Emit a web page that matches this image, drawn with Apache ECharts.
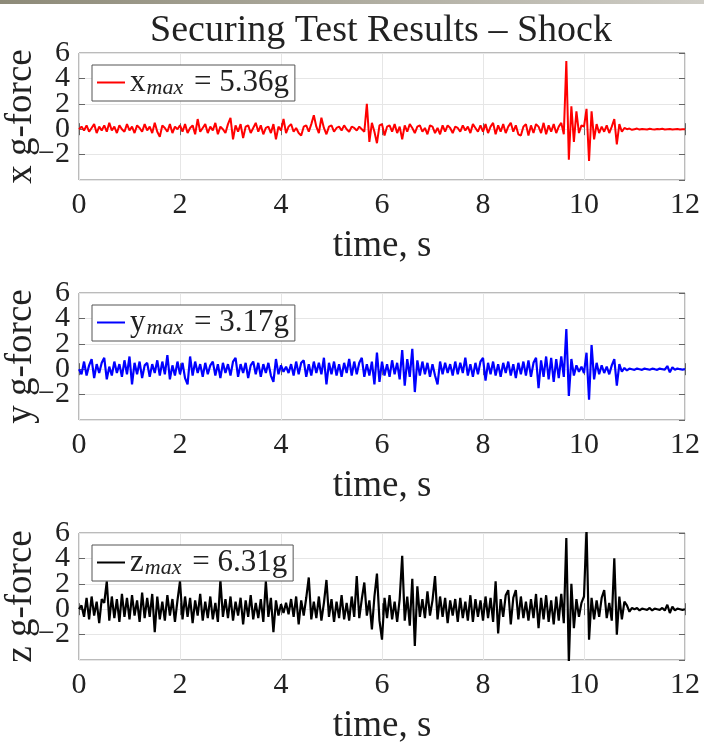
<!DOCTYPE html>
<html>
<head>
<meta charset="utf-8">
<title>Securing Test Results – Shock</title>
<script src="https://cdn.jsdelivr.net/npm/echarts@6/dist/echarts.min.js"></script>
<style>
  html, body { margin: 0; padding: 0; background: #fff; }
  #chart { width: 704px; height: 747px; }
</style>
</head>
<body>
<div id="chart"></div>
<script>
// sample step, s
const DT = 0.05;

// x acceleration, g (one row per second)
const xForce = [
  0.0, 0.2, -0.1, 0.3, -0.2, 0.1, 0.4, -0.3, 0.2, -0.1, 0.3, -0.2, 0.5, -0.1, 0.2, -0.3, 0.3, 0.0, -0.2, 0.4,
  -0.1, 0.2, -0.3, 0.3, 0.1, -0.2, 0.4, -0.1, 0.2, -0.3, 0.5, -0.2, -0.6, 0.3, 0.1, -0.2, 0.4, -0.3, 0.2, 0.0,
  0.3, -0.2, 0.4, -0.3, 0.1, 0.3, -0.4, 0.8, -0.2, 0.1, 0.4, -0.3, 0.2, -0.1, 0.5, -0.4, 0.2, 0.0, -0.3, 0.4,
  0.9, -0.8, 0.3, -0.2, 0.4, -0.7, 0.2, 0.3, -0.3, 0.1, 0.5, -0.2, 0.3, -0.4, 0.1, 0.2, -0.3, 0.4, -0.8, 0.2,
  -0.1, 0.8, -0.3, 0.2, 0.4, -0.2, 0.1, -0.3, -0.5, 0.2, 0.3, -0.2, 0.4, 1.1, 0.2, -0.3, 0.9, 0.1, -0.4, 0.2,
  0.3, -0.2, 0.1, 0.2, -0.1, 0.3, 0.0, -0.2, 0.2, 0.1, -0.1, 0.2, 0.0, -0.2, 2.0, -1.0, 0.5, -0.2, -1.1, 0.3,
  0.4, -0.5, 0.2, 0.3, -0.2, 0.4, -0.3, 0.2, -0.8, 0.3, -0.2, 0.4, 0.1, -0.3, 0.2, 0.3, -0.2, 0.1, -0.4, 0.3,
  0.2, -0.3, 0.1, -0.4, 0.3, -0.2, 0.3, 0.1, -0.3, 0.2, 0.1, -0.2, 0.3, -0.1, 0.2, -0.3, 0.4, 0.1, -0.2, 0.3,
  -0.2, 0.4, -0.3, 0.2, 0.5, -0.4, 0.3, -0.2, 0.4, -0.3, 0.2, 0.5, -0.2, 0.3, -0.4, -0.5, 0.2, 0.4, -0.5, 0.3,
  -0.3, 0.4, 0.2, -0.3, 0.5, -0.4, 0.3, -0.2, 0.4, -0.3, 0.2, 0.5, -0.4, 5.36, -2.4, 1.8, -1.0, 1.4, -0.3, 0.3,
  0.2, 1.6, -2.5, 1.4, -0.8, 0.4, -0.3, 0.2, -0.2, 0.3, -0.3, 0.2, 0.8, -1.2, 0.4, -0.2, 0.1, 0.0, 0.05, -0.05,
  0.0, 0.05, -0.03, 0.02, 0.0, -0.02, 0.03, 0.0, -0.03, 0.02, 0.0, 0.03, -0.02, 0.0, 0.02, -0.03, 0.0, 0.02, -0.02, 0.0,
  0.0
];

// y acceleration, g
const yForce = [
  0.0, -0.4, 0.6, -0.5, 0.3, 0.8, -0.7, 0.4, -0.3, 0.5, 0.9, -0.8, 0.2, -0.5, 0.6, -0.3, 0.4, -0.6, 0.7, -0.4,
  1.0, -1.2, 0.5, -0.4, 0.6, -0.7, 0.3, 0.5, -0.6, 0.4, -0.3, 0.7, -0.5, 0.6, -0.4, 1.1, -0.8, 0.3, -0.5, 0.6,
  -0.4, 0.5, -0.7, -1.2, 1.0, -0.5, 0.6, -0.3, 0.4, -0.6, 0.5, -0.4, 0.3, 0.6, -0.5, 0.4, -0.7, 0.5, -0.3, 0.4,
  -0.5, 0.6, 0.9, -0.6, 0.4, -0.3, 0.5, -0.7, 0.3, 0.6, -0.4, 0.5, -0.6, 0.4, -0.3, 0.5, -0.5, -1.0, 0.8, -0.4,
  0.3, -0.2, 0.2, -0.3, 0.4, -0.5, 0.6, -0.4, 0.5, 0.7, -0.6, 0.4, -0.5, 0.6, -0.3, 0.5, -0.4, 0.9, -1.2, 0.5,
  -0.4, 0.6, -0.5, 0.4, -0.6, 0.5, -0.3, 0.8, -0.5, 0.6, -0.4, 0.5, 0.9, -0.6, 0.4, -0.5, 0.6, -1.2, 1.3, -1.0,
  0.6, -0.5, 0.4, -0.6, 0.7, -0.4, 0.5, -0.8, 1.5, -1.3, 0.8, -0.6, 1.6, -1.8, 0.7, -0.5, 0.6, -0.4, 0.5, -0.6,
  0.4, -0.5, -1.2, 0.6, -0.4, 0.5, -0.3, 0.4, -0.5, 0.6, -0.4, 0.5, -0.3, 0.9, -0.5, 0.4, -0.6, 0.5, -0.4, 0.6,
  0.9, -0.9, 0.5, -0.4, 0.6, -0.5, 0.4, -0.6, 0.5, -0.3, 0.6, -0.5, 0.4, -0.7, 0.5, -0.4, 0.6, -0.5, 0.7, -0.6,
  0.5, 0.9, -1.5, 0.7, -0.6, 1.0, -0.8, 0.9, -1.0, 0.8, -0.7, 1.0, -0.6, 3.17, -2.1, 0.8, -0.5, 0.3, -0.2, 0.2,
  -0.3, 1.3, -2.4, 1.9, -0.8, 0.5, -0.4, 0.3, -0.3, 0.2, -0.4, 0.3, 0.8, -1.3, 0.4, -0.2, 0.1, -0.1, 0.05, 0.0,
  -0.05, 0.05, 0.0, -0.05, 0.05, 0.0, -0.04, 0.04, 0.0, -0.05, 0.05, 0.0, -0.04, 0.25, -0.25, 0.15, -0.05, 0.05, 0.0, -0.03,
  0.0
];

// z acceleration, g
const zForce = [
  0.0, 0.3, -0.6, 0.9, -0.8, 1.0, -0.5, 0.6, -1.1, 0.8, 0.5, 2.2, -0.9, 1.0, -0.7, 0.8, -1.0, 1.2, -0.6, 0.9,
  -0.8, 1.1, -0.5, 0.7, -1.0, 1.3, -0.7, 0.9, -0.6, 1.2, -1.8, 1.0, -0.8, 0.6, -0.9, 1.1, -0.5, 0.8, -1.0, 0.7,
  2.2, -0.8, 1.0, -0.6, 0.9, -1.1, 0.7, -0.5, 1.2, -0.9, 0.6, -0.7, 1.0, -0.8, 0.5, -1.0, 2.3, -0.6, 0.8, -0.7,
  1.0, -0.9, 0.6, -0.5, 0.9, -1.2, 0.7, -0.6, 1.1, -0.8, 0.5, -0.7, 0.8, -1.0, 2.2, -0.6, 0.9, -1.8, 0.7, -0.5,
  0.4, -0.3, 0.5, -0.4, 0.8, -0.6, 1.0, -1.2, 0.7, -0.5, 0.9, 2.5, -0.8, 0.6, -0.7, 1.0, -0.9, 0.5, 2.3, -0.6,
  0.8, -1.0, 0.6, -0.7, 1.1, -0.8, 0.5, -0.9, 1.0, -0.6, 2.6, -0.7, 0.8, 2.1, -0.5, 0.7, -1.6, 1.0, 2.8, -0.9,
  -2.4, 0.9, -0.7, 1.1, -0.8, 0.6, -1.0, 0.8, 4.2, -0.9, 1.0, -1.3, 2.4, -2.9, 1.8, -0.6, 0.8, -0.7, 1.4, -0.5,
  0.7, 2.6, -0.8, 1.0, -0.6, 0.9, -1.1, 0.7, -0.5, 0.8, -1.0, 0.9, -0.7, 0.6, -0.9, 1.1, -1.0, 0.8, -0.6, 0.7,
  -0.9, 1.0, -0.7, 0.9, -1.0, 2.2, -1.9, 0.8, -0.6, 1.1, 1.5, -1.2, 0.9, 1.5, -0.8, 1.0, -0.7, 0.6, -0.9, 0.8,
  -0.7, 1.2, -1.5, 0.9, -0.8, 1.1, -1.0, 0.7, -1.2, 1.0, -0.9, 1.2, -1.1, 5.6, -4.2, 2.0, -1.5, 0.8, -0.6, 0.5,
  1.0, 6.31, -2.4, 0.9, -0.8, 0.7, -0.6, 0.9, 1.5, -0.7, 0.5, -0.9, 4.0, -2.0, 1.0, -0.8, 0.6, 0.3, -0.2, 0.1,
  0.0, 0.1, -0.1, 0.05, 0.0, -0.05, 0.1, -0.1, 0.05, 0.0, -0.05, 0.1, -0.1, 0.35, -0.3, 0.2, -0.1, 0.05, 0.0, -0.05,
  0.0
];

const seriesNames = ['x', 'y', 'z'];
const maxValues = ['5.36g', '3.17g', '6.31g'];
const axisNames = ['x g-force', 'y g-force', 'z g-force'];
const colors = ['#ff0000', '#0000ff', '#000000'];
const lineWidths = [2, 2.2, 2.2];
const signals = [xForce, yForce, zForce];

const FONT = 'Liberation Serif';
const Y_MIN = -4, Y_MAX = 6, Y_STEP = 2;
const gridTops = [53, 293, 533];
const GRID_LEFT = 79, GRID_WIDTH = 606, GRID_HEIGHT = 127;

const toPairs = arr => arr.map((v, i) => [Math.round(i * DT * 100) / 100, v]);
const minus = v => (v < 0 ? '\u2212' + (-v) : String(v));

const chart = echarts.init(document.getElementById('chart'), null, { renderer: 'canvas' });

const grid = [], xAxis = [], yAxis = [], series = [], legend = [];
const tickStyle = { inside: true, length: 6, lineStyle: { color: '#666', width: 1 } };
const yLabelStyle = { margin: 9, fontFamily: FONT, fontSize: 30, color: '#222', hideOverlap: false };

gridTops.forEach((top, i) => {
  grid.push({
    left: GRID_LEFT, top: top, width: GRID_WIDTH, height: GRID_HEIGHT,
    containLabel: false, outerBoundsMode: 'none',
    show: true, borderColor: '#777', borderWidth: 1, backgroundColor: '#fff'
  });
  // bottom x axis with labels
  xAxis.push({
    gridIndex: i, type: 'value', min: 0, max: 12, interval: 2, position: 'bottom',
    name: 'time, s', nameLocation: 'middle', nameGap: 48, nameMoveOverlap: false,
    nameTextStyle: { fontFamily: FONT, fontSize: 37, color: '#222' },
    axisLine: { show: false },
    axisTick: tickStyle,
    axisLabel: { margin: 10, fontFamily: FONT, fontSize: 30, color: '#222', showMinLabel: true, showMaxLabel: true },
    splitLine: { show: true, lineStyle: { color: '#e6e6e6', width: 1 } }
  });
  // top x axis, ticks only
  xAxis.push({
    gridIndex: i, type: 'value', min: 0, max: 12, interval: 2, position: 'top',
    axisLine: { show: false }, axisTick: tickStyle,
    axisLabel: { show: false }, splitLine: { show: false }
  });
  // left y axis: ticks, grid lines, labels 4 .. -2
  yAxis.push({
    gridIndex: i, type: 'value', min: Y_MIN, max: Y_MAX, interval: Y_STEP, position: 'left',
    name: axisNames[i], nameLocation: 'middle', nameGap: 39, nameMoveOverlap: false,
    nameTextStyle: { fontFamily: FONT, fontSize: 37, color: '#222' },
    axisLine: { show: false },
    axisTick: tickStyle,
    axisLabel: Object.assign({ showMinLabel: false, showMaxLabel: false, formatter: minus }, yLabelStyle),
    splitLine: { show: true, lineStyle: { color: '#e6e6e6', width: 1 } }
  });
  // left y axis twin: only the top label (6), which the label overlap rule would drop
  yAxis.push({
    gridIndex: i, type: 'value', min: Y_MIN, max: Y_MAX, interval: Y_STEP, position: 'left',
    axisLine: { show: false }, axisTick: { show: false }, splitLine: { show: false },
    axisLabel: Object.assign({
      showMinLabel: false, showMaxLabel: true,
      formatter: v => (v === Y_MAX ? minus(v) : '')
    }, yLabelStyle)
  });
  // right y axis, ticks only
  yAxis.push({
    gridIndex: i, type: 'value', min: Y_MIN, max: Y_MAX, interval: Y_STEP, position: 'right',
    axisLine: { show: false }, axisTick: tickStyle,
    axisLabel: { show: false }, splitLine: { show: false }
  });
  series.push({
    name: seriesNames[i], type: 'line',
    xAxisIndex: i * 2, yAxisIndex: i * 3,
    data: toPairs(signals[i]),
    symbol: 'none', showSymbol: false,
    lineStyle: { color: colors[i], width: lineWidths[i] },
    itemStyle: { color: colors[i] },
    clip: true, animation: false
  });
  legend.push({
    data: [seriesNames[i]], left: 92, top: top + 12,
    backgroundColor: '#fff', borderColor: '#555', borderWidth: 1,
    padding: [2, 6, 2, 5], icon: 'rect', itemWidth: 28, itemHeight: 2,
    selectedMode: false,
    formatter: () => '{n|' + seriesNames[i] + '}{s|max}{n| = ' + maxValues[i] + '}',
    textStyle: {
      color: '#222',
      rich: {
        n: { fontFamily: FONT, fontSize: 31, color: '#222' },
        s: { fontFamily: FONT, fontSize: 22, fontStyle: 'italic', color: '#222', padding: [11, 3, 0, 1] }
      }
    }
  });
});

const option = {
  backgroundColor: '#fff',
  animation: false,
  title: {
    text: 'Securing Test Results \u2013 Shock',
    left: 376, top: 7, textAlign: 'center',
    textStyle: { fontFamily: FONT, fontSize: 38, fontWeight: 'normal', color: '#222' }
  },
  graphic: [{
    type: 'rect', left: 0, top: 0, shape: { width: 704, height: 4 },
    style: {
      fill: new echarts.graphic.LinearGradient(0, 0, 1, 0, [
        { offset: 0, color: '#8d8a78' },
        { offset: 1, color: '#cfcdc6' }
      ])
    }
  }],
  grid: grid,
  xAxis: xAxis,
  yAxis: yAxis,
  legend: legend,
  series: series
};

chart.setOption(option);
</script>
</body>
</html>
